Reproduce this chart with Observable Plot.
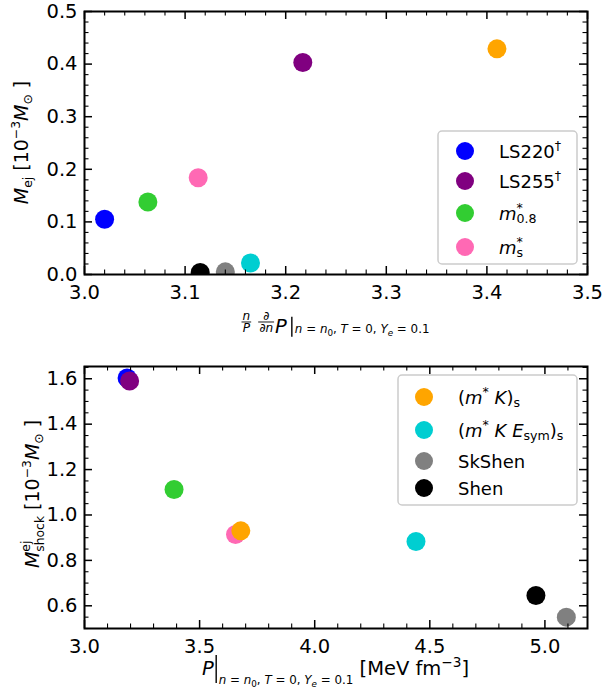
<!DOCTYPE html>
<html>
<head>
<meta charset="utf-8">
<script src="https://cdn.jsdelivr.net/npm/d3@7"></script>
<script src="https://cdn.jsdelivr.net/npm/@observablehq/plot@0.6"></script>
<style>
html,body{margin:0;padding:0;background:#fff;}
#chart svg{display:block;}
</style>
</head>
<body>
<div id="chart"></div>
<script>
// ---------------- data ----------------
const models = ["LS220", "LS255", "m*0.8", "m*s", "(m*K)s", "(m*KEsym)s", "SkShen", "Shen"];
const colors = ["#0000ff", "#800080", "#32cd32", "#ff69b4", "#ffa500", "#00ced1", "#808080", "#000000"];
// top panel: (n/P) dP/dn at n0, T=0, Ye=0.1  vs  M_ej [1e-3 Msun]
const logSlope = [3.020, 3.217, 3.063, 3.113, 3.410, 3.165, 3.140, 3.115];
const mEjecta  = [0.105, 0.403, 0.138, 0.184, 0.429, 0.022, 0.005, 0.004];
// bottom panel: P at n0, T=0, Ye=0.1 [MeV fm^-3]  vs  M_shock^ej [1e-3 Msun]
const pressure = [3.185, 3.196, 3.389, 3.656, 3.679, 4.440, 5.093, 4.961];
const mShock   = [1.603, 1.590, 1.112, 0.914, 0.930, 0.883, 0.550, 0.645];
const topLegendModels = [0, 1, 2, 3];
const bottomLegendModels = [4, 5, 6, 7];

// legend label markup (mathtext-like pieces)
const legendMarkup = [
  [{t: "LS220"}, {t: "\u2020", s: 0.7, dy: -8}],
  [{t: "LS255"}, {t: "\u2020", s: 0.7, dy: -8}],
  [{t: "m", i: 1}, {t: "*", s: 0.7, dy: -8}, {t: "0.8", s: 0.7, dy: 3, back: 1}],
  [{t: "m", i: 1}, {t: "*", s: 0.7, dy: -8}, {t: "s", s: 0.7, dy: 3, back: 1}],
  [{t: "("}, {t: "m", i: 1}, {t: "*", s: 0.7, dy: -8}, {t: " "}, {t: "K", i: 1}, {t: ")"}, {t: "s", s: 0.7, dy: 3}],
  [{t: "("}, {t: "m", i: 1}, {t: "*", s: 0.7, dy: -8}, {t: " "}, {t: "K", i: 1}, {t: " "}, {t: "E", i: 1}, {t: "sym", s: 0.7, dy: 3}, {t: ")"}, {t: "s", s: 0.7, dy: 3}],
  [{t: "SkShen"}],
  [{t: "Shen"}]
];

// ---------------- helpers ----------------
const FONT = '"DejaVu Sans", sans-serif';
const SIZE = 19.5;

function stepTicks(a, b, s) {
  return d3.range(Math.ceil(a / s - 1e-9), Math.floor(b / s + 1e-9) + 1).map(k => +(k * s).toFixed(4));
}

function panel(o) {
  const W = 602, ml = 84, mr = 15;
  const iw = W - ml - mr, ih = o.height - o.mt - o.mb;
  const rows = models.map((m, i) => ({model: m, color: colors[i], x: o.xs[i], y: o.ys[i]}));
  const fmt = d3.format(".1f");
  const [x0, x1] = o.xDomain, [y0, y1] = o.yDomain;
  const xMaj = stepTicks(x0, x1, o.xMajor);
  const xMin = stepTicks(x0, x1, o.xMinor).filter(v => !xMaj.some(m => Math.abs(m - v) < 1e-6));
  const yMaj = stepTicks(y0, y1, o.yMajor);
  const yMin = stepTicks(y0, y1, o.yMinor).filter(v => !yMaj.some(m => Math.abs(m - v) < 1e-6));
  const MAJ = 8, MIN = 4.5;
  const tk = {stroke: "black", strokeWidth: 1.5};
  const tn = {stroke: "black", strokeWidth: 1.1};
  return Plot.plot({
    width: W, height: o.height,
    marginLeft: ml, marginRight: mr, marginTop: o.mt, marginBottom: o.mb,
    style: {fontFamily: FONT, fontSize: SIZE + "px", color: "black", background: "white"},
    x: {domain: o.xDomain},
    y: {domain: o.yDomain},
    color: {type: "identity"},
    marks: [
      Plot.dot(rows, {x: "x", y: "y", fill: "color", r: 9.5, clip: true}),
      Plot.tickX(xMaj, {x: d => d, insetTop: ih - MAJ, ...tk}),
      Plot.tickX(xMaj, {x: d => d, insetBottom: ih - MAJ, ...tk}),
      Plot.tickX(xMin, {x: d => d, insetTop: ih - MIN, ...tn}),
      Plot.tickX(xMin, {x: d => d, insetBottom: ih - MIN, ...tn}),
      Plot.tickY(yMaj, {y: d => d, insetRight: iw - MAJ, ...tk}),
      Plot.tickY(yMaj, {y: d => d, insetLeft: iw - MAJ, ...tk}),
      Plot.tickY(yMin, {y: d => d, insetRight: iw - MIN, ...tn}),
      Plot.tickY(yMin, {y: d => d, insetLeft: iw - MIN, ...tn}),
      Plot.axisX(xMaj, {tickSize: 0, tickPadding: 11, tickFormat: fmt, label: null}),
      Plot.axisY(yMaj, {tickSize: 0, tickPadding: 7, tickFormat: fmt, label: null}),
      Plot.frame({stroke: "black", strokeWidth: 2})
    ]
  });
}

function richSegs(parent, segs, fs) {
  const t = parent.append("text").attr("font-size", fs).attr("fill", "black").attr("text-anchor", "start");
  segs.forEach(([s, it]) => t.append("tspan").text(s).attr("font-style", it ? "italic" : "normal"));
  return t;
}

// lay out mathtext-like pieces along a baseline
function mt(sel, pieces, {x, y, rotate = 0, align = "middle", size = SIZE}) {
  const g = sel.append("g").attr("transform", `translate(${x},${y}) rotate(${rotate})`)
    .attr("font-family", FONT).attr("text-anchor", "start");
  const inner = g.append("g");
  let cx = 0, lastStart = 0;
  for (const p of pieces) {
    if (p.gap != null) { cx += p.gap; continue; }
    if (p.bar) {
      inner.append("line").attr("x1", cx + p.bar.dx).attr("x2", cx + p.bar.dx)
        .attr("y1", p.bar.y1).attr("y2", p.bar.y2).attr("stroke", "black").attr("stroke-width", 1.4);
      cx += p.bar.w; continue;
    }
    if (p.frac) {
      const fs = size * 0.62;
      const num = richSegs(inner, p.frac[0], fs), den = richSegs(inner, p.frac[1], fs);
      const wn = num.node().getComputedTextLength(), wd = den.node().getComputedTextLength();
      const w = Math.max(wn, wd) + 2;
      num.attr("x", cx + (w - wn) / 2).attr("y", -0.70 * size);
      den.attr("x", cx + (w - wd) / 2).attr("y", -0.08 * size);
      inner.append("line").attr("x1", cx).attr("x2", cx + w)
        .attr("y1", -0.58 * size).attr("y2", -0.58 * size).attr("stroke", "black").attr("stroke-width", 0.9);
      lastStart = cx; cx += w; continue;
    }
    const t = inner.append("text")
      .attr("text-anchor", "start")
      .attr("font-size", size * (p.s ?? 1))
      .attr("y", p.dy ?? 0)
      .attr("fill", "black")
      .attr("font-style", p.i ? "italic" : "normal")
      .style("white-space", "pre")
      .text(p.t);
    const start = p.back ? lastStart : cx;
    t.attr("x", start);
    const w = t.node().getComputedTextLength();
    if (p.back) cx = Math.max(cx, start + w);
    else { lastStart = cx; cx += w; }
  }
  if (align === "middle") inner.attr("transform", `translate(${-cx / 2},0)`);
  return g;
}

function subPieces(base) {
  const s = 0.61, ss = 0.45;
  return [
    {t: "n", i: 1, s, dy: base}, {t: " = ", s, dy: base}, {t: "n", i: 1, s, dy: base},
    {t: "0", s: ss, dy: base + 3}, {t: ", ", s, dy: base}, {t: "T", i: 1, s, dy: base},
    {t: " = 0, ", s, dy: base}, {t: "Y", i: 1, s, dy: base}, {t: "e", i: 1, s: ss, dy: base + 3},
    {t: " = 0.1", s, dy: base}
  ];
}

function legend(sel, box, items) {
  sel.append("rect").attr("x", box.x).attr("y", box.y).attr("width", box.w).attr("height", box.h)
    .attr("rx", 4).attr("fill", "white").attr("fill-opacity", 0.8)
    .attr("stroke", "#cccccc").attr("stroke-width", 1.5);
  items.forEach((idx, k) => {
    const cy = box.rows[k];
    sel.append("circle").attr("cx", box.mx).attr("cy", cy).attr("r", 9).attr("fill", colors[idx]);
    mt(sel, legendMarkup[idx], {x: box.tx, y: cy + 6.5, align: "start", size: 18});
  });
}

// ---------------- build ----------------
const chart = document.getElementById("chart");

const svgTop = panel({
  xs: logSlope, ys: mEjecta, height: 340, mt: 11, mb: 66,
  xDomain: [3.0, 3.5], yDomain: [0, 0.5],
  xMajor: 0.1, xMinor: 0.02, yMajor: 0.1, yMinor: 0.02
});
chart.append(svgTop);

const svgBot = panel({
  xs: pressure, ys: mShock, height: 351, mt: 26, mb: 63,
  xDomain: [3.0, 5.185], yDomain: [0.5, 1.654],
  xMajor: 0.5, xMinor: 0.1, yMajor: 0.2, yMinor: 0.05
});
chart.append(svgBot);

const T = d3.select(svgTop), B = d3.select(svgBot);

// top panel labels
mt(T, [
  {frac: [[["n", 1]], [["P", 1]]]}, {gap: 7},
  {frac: [[["\u2202", 0]], [["\u2202", 0], ["n", 1]]]}, {gap: 1},
  {t: "P", i: 1}, {gap: 2},
  {bar: {dx: 3, y1: -16.6, y2: 3.4, w: 6}},
  ...subPieces(0)
], {x: 335.5, y: 333.3});

mt(T, [
  {t: "M", i: 1}, {t: "ej", s: 0.65, dy: 4}, {t: " [10"}, {t: "\u22123", s: 0.65, dy: -8},
  {t: "M", i: 1}, {t: "\u2299", s: 0.65, dy: 4}, {t: " ]"}
], {x: 28, y: 142.5, rotate: -90, size: 19});

legend(T, {x: 438, y: 131, w: 139, h: 133, mx: 465, tx: 499, rows: [151, 181, 213, 247]}, topLegendModels);

// bottom panel labels
mt(B, [
  {t: "P", i: 1}, {gap: 1},
  {bar: {dx: 1.5, y1: -20, y2: 8, w: 4}},
  ...subPieces(9),
  {t: " [MeV fm"}, {t: "\u22123", s: 0.7, dy: -8}, {t: "]"}
], {x: 335.5, y: 335});

mt(B, [
  {t: "M", i: 1}, {t: "ej", s: 0.65, dy: -9}, {t: "shock", s: 0.65, dy: 5, back: 1},
  {t: " [10"}, {t: "\u22123", s: 0.65, dy: -8},
  {t: "M", i: 1}, {t: "\u2299", s: 0.65, dy: 4}, {t: " ]"}
], {x: 39, y: 154, rotate: -90, size: 19});

legend(B, {x: 398, y: 35, w: 179, h: 130, mx: 424, tx: 458, rows: [57, 90, 121, 148]}, bottomLegendModels);
</script>
</body>
</html>
